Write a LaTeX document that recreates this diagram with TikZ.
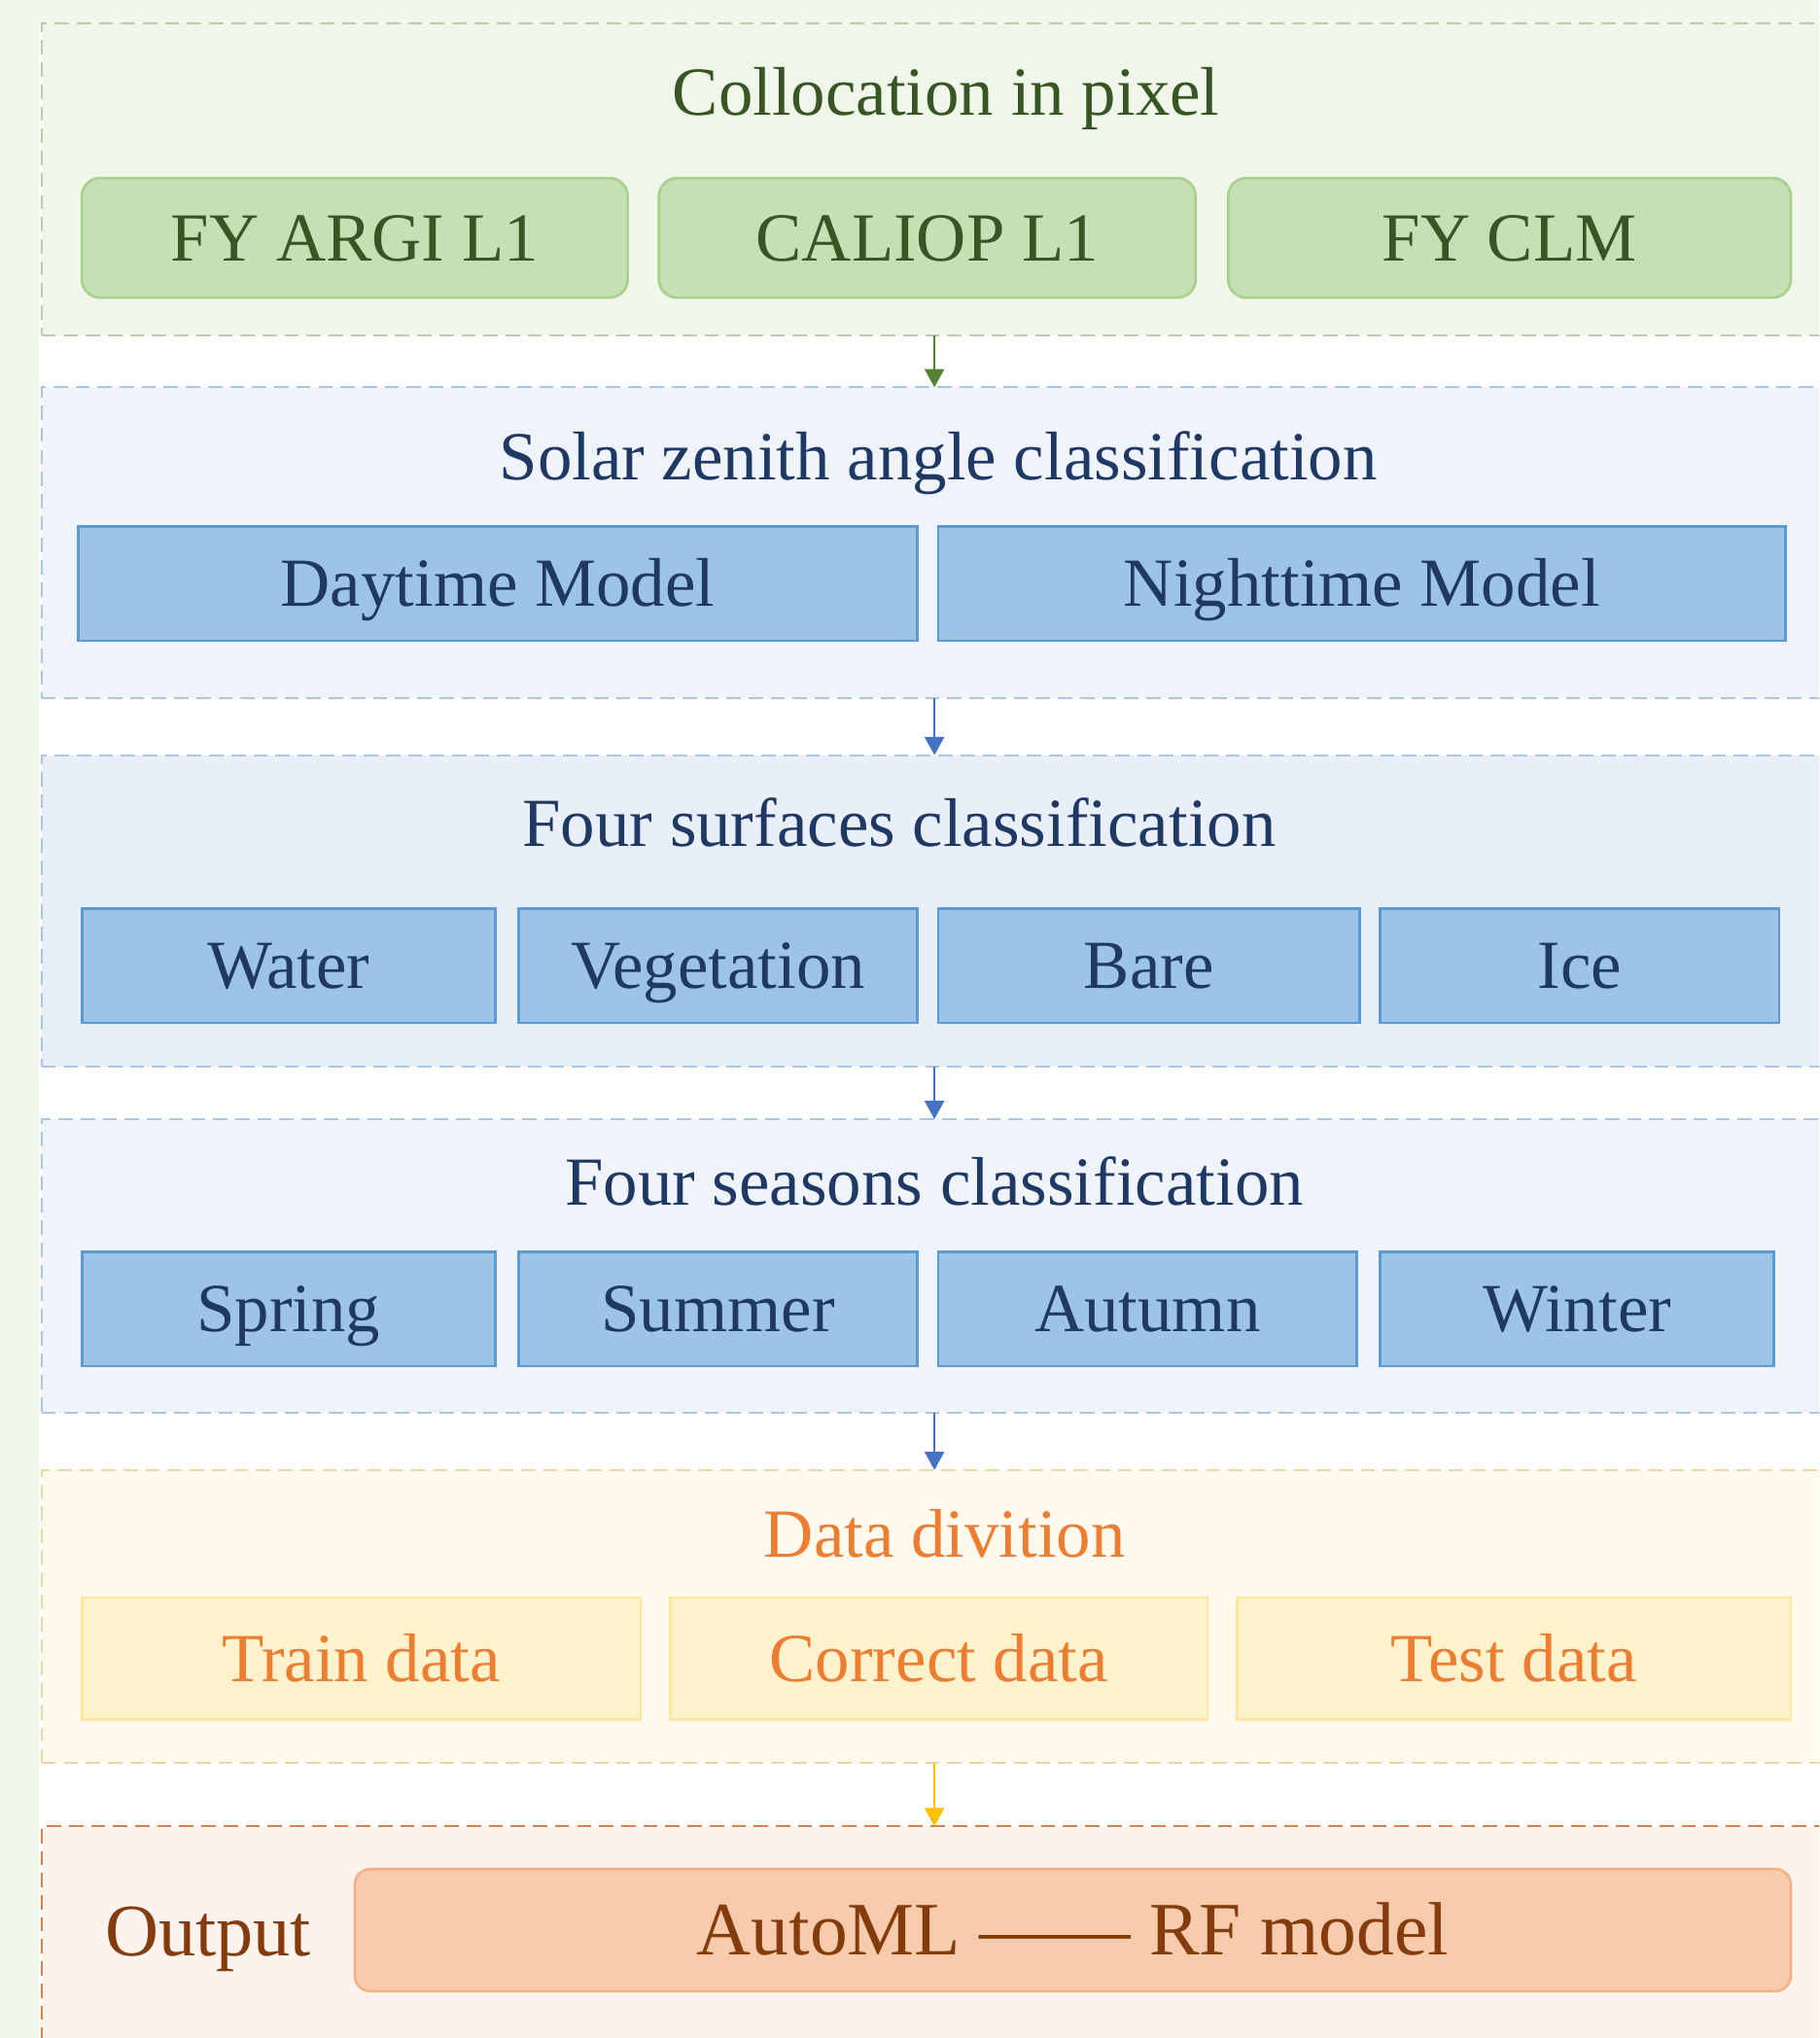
\documentclass[tikz,border=0pt]{standalone}
\usepackage{fontspec}
\setmainfont{Liberation Serif}
\usetikzlibrary{arrows.meta}
\definecolor{bggreen}{HTML}{F1F7EC}
\definecolor{gAfill}{HTML}{F0F6EA}
\definecolor{gAline}{HTML}{B9CDA9}
\definecolor{gboxfill}{HTML}{C5E0B4}
\definecolor{gboxline}{HTML}{A9D18E}
\definecolor{gtext}{HTML}{375623}
\definecolor{gBfill}{HTML}{EFF4FA}
\definecolor{gCfill}{HTML}{E9EFF8}
\definecolor{gBline}{HTML}{A9C6E8}
\definecolor{bboxfill}{HTML}{9DC3E6}
\definecolor{bboxline}{HTML}{5B9BD5}
\definecolor{btext}{HTML}{1F3864}
\definecolor{gYfill}{HTML}{FFF9EE}
\definecolor{gYline}{HTML}{EAD8A4}
\definecolor{yboxfill}{HTML}{FFF2CC}
\definecolor{yboxline}{HTML}{FFE699}
\definecolor{otext}{HTML}{ED7D31}
\definecolor{gOfill}{HTML}{FCF3EE}
\definecolor{gOline}{HTML}{D4844A}
\definecolor{oboxfill}{HTML}{F8CBAD}
\definecolor{oboxline}{HTML}{F4B183}
\definecolor{brtext}{HTML}{843C0C}
\definecolor{arrgreen}{HTML}{548235}
\definecolor{arrblue}{HTML}{4472C4}
\definecolor{arryellow}{HTML}{FFC000}
\tikzset{
  grp/.style={rectangle, inner sep=0pt, outer sep=0pt, line width=1.5pt, dash pattern=on 11pt off 6pt},
  boxbase/.style={rectangle, inner sep=0pt, outer sep=0pt, line width=2pt,
    font=\fontsize{53}{60}\selectfont, text height=35pt, text depth=0pt},
  gbox/.style={boxbase, rounded corners=14pt, fill=gboxfill, draw=gboxline, text=gtext},
  bbox/.style={boxbase, fill=bboxfill, draw=bboxline, text=btext},
  ybox/.style={boxbase, fill=yboxfill, draw=yboxline, text=otext},
  obox/.style={boxbase, rounded corners=12pt, fill=oboxfill, draw=oboxline, text=brtext,
    font=\fontsize{58}{64}\selectfont, text height=38pt},
  ttl/.style={anchor=base, inner sep=0pt, font=\fontsize{53}{60}\selectfont},
  arr/.style={line width=1.5pt, -{Triangle[width=15pt,length=14pt]}}
}
\begin{document}
\begin{tikzpicture}[x=1pt,y=-1pt]
\useasboundingbox (0,0) rectangle (1400,1568);
\clip (0,0) rectangle (1400,1568);
\fill[bggreen] (0,0) rectangle (1400,1568);
\fill[white] (30,18) rectangle (1400,1568);
\coordinate (ax) at (719,0);

% group 1
\node[grp, fill=gAfill, draw=gAline, minimum width=1378pt, minimum height=240pt] (g1) at (721,138) {};
\node[ttl, text=gtext] (t1) at (728,89) {Collocation in pixel};
\node[gbox, minimum width=420pt, minimum height=92pt] (fy) at (273,183) {FY ARGI L1};
\node[gbox, minimum width=413pt, minimum height=92pt] (cal) at (713.5,183) {CALIOP L1};
\node[gbox, minimum width=433pt, minimum height=92pt] (clm) at (1161.5,183) {FY CLM};

% group 2
\node[grp, fill=gBfill, draw=gBline, minimum width=1378pt, minimum height=239pt] (g2) at (721,417.5) {};
\node[ttl, text=btext] (t2) at (722,369) {Solar zenith angle classification};
\node[bbox, minimum width=646pt, minimum height=88pt] (day) at (383,449) {Daytime Model};
\node[bbox, minimum width=652pt, minimum height=88pt] (night) at (1048,449) {Nighttime Model};

% group 3
\node[grp, fill=gCfill, draw=gBline, minimum width=1378pt, minimum height=240pt] (g3) at (721,701) {};
\node[ttl, text=btext] (t3) at (692,651) {Four surfaces classification};
\node[bbox, minimum width=318pt, minimum height=88pt] (water) at (222,743) {Water};
\node[bbox, minimum width=307pt, minimum height=88pt] (veg) at (552.5,743) {Vegetation};
\node[bbox, minimum width=324pt, minimum height=88pt] (bare) at (884,743) {Bare};
\node[bbox, minimum width=307pt, minimum height=88pt] (ice) at (1215.5,743) {Ice};

% group 4
\node[grp, fill=gBfill, draw=gBline, minimum width=1378pt, minimum height=226pt] (g4) at (721,974) {};
\node[ttl, text=btext] (t4) at (719,927) {Four seasons classification};
\node[bbox, minimum width=318pt, minimum height=88pt] (spring) at (222,1007) {Spring};
\node[bbox, minimum width=307pt, minimum height=88pt] (summer) at (552.5,1007) {Summer};
\node[bbox, minimum width=322pt, minimum height=88pt] (autumn) at (883,1007) {Autumn};
\node[bbox, minimum width=303pt, minimum height=88pt] (winter) at (1213.5,1007) {Winter};

% group 5
\node[grp, fill=gYfill, draw=gYline, minimum width=1378pt, minimum height=225pt] (g5) at (721,1243.5) {};
\node[ttl, text=otext] (t5) at (727,1198) {Data divition};
\node[ybox, minimum width=430pt, minimum height=94pt] (train) at (278,1276) {Train data};
\node[ybox, minimum width=413pt, minimum height=94pt] (correct) at (722.5,1276) {Correct data};
\node[ybox, minimum width=426pt, minimum height=94pt] (test) at (1165,1276) {Test data};

% group 6
\node[grp, fill=gOfill, draw=gOline, minimum width=1378pt, minimum height=200pt] (g6) at (721,1505) {};
\node[ttl, text=brtext, font=\fontsize{57}{64}\selectfont] (out) at (160,1505) {Output};
\node[obox, minimum width=1105pt, minimum height=94pt] (auto) at (825.5,1485) {AutoML —— RF model};

% arrows
\draw[arr, arrgreen] (g1.south -| ax) -- (g2.north -| ax);
\draw[arr, arrblue] (g2.south -| ax) -- (g3.north -| ax);
\draw[arr, arrblue] (g3.south -| ax) -- (g4.north -| ax);
\draw[arr, arrblue] (g4.south -| ax) -- (g5.north -| ax);
\draw[arr, arryellow] (g5.south -| ax) -- (g6.north -| ax);
\end{tikzpicture}
\end{document}
